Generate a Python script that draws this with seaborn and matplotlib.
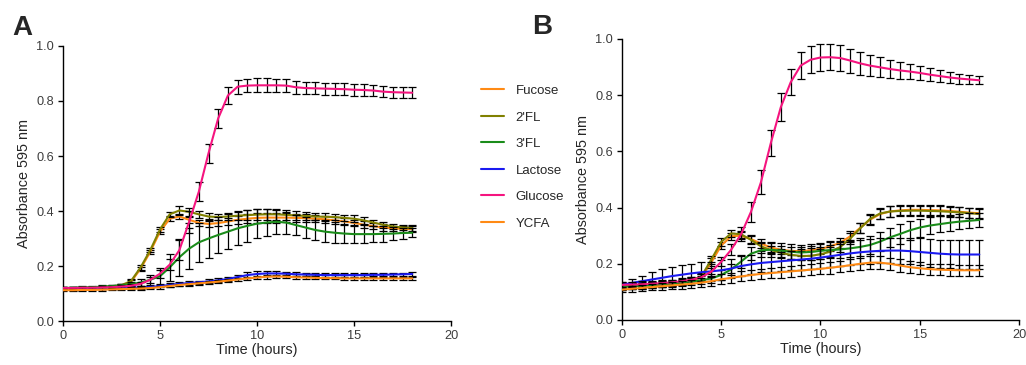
import numpy as np
import pandas as pd
import matplotlib
matplotlib.use("Agg")
import matplotlib.pyplot as plt
from matplotlib.lines import Line2D
import seaborn as sns

# Sampling times (hours), one reading every 30 min
hours = np.arange(0, 18.5, 0.5)

series_names = ["Fucose", "2'FL", "3'FL", "Lactose", "Glucose", "YCFA"]
colors = {"Fucose": "#FF8A14", "2'FL": "#808000", "3'FL": "#1A8C1A",
          "Lactose": "#1A1AF0", "Glucose": "#F5147F", "YCFA": "#FF8A14"}

# ---- Panel A: mean absorbance ----
fucose_A = [0.116, 0.117, 0.118, 0.119, 0.121, 0.124, 0.128, 0.142, 0.190, 0.252, 0.325, 0.372, 0.380, 0.368, 0.357, 0.353, 0.356, 0.362, 0.368, 0.372, 0.375, 0.376, 0.376, 0.376, 0.375, 0.374, 0.372, 0.370, 0.366, 0.362, 0.357, 0.350, 0.345, 0.340, 0.337, 0.335, 0.334]
fl2_A = [0.118, 0.119, 0.120, 0.121, 0.123, 0.126, 0.130, 0.145, 0.195, 0.258, 0.333, 0.388, 0.402, 0.397, 0.388, 0.380, 0.378, 0.380, 0.383, 0.385, 0.387, 0.388, 0.388, 0.386, 0.384, 0.382, 0.380, 0.379, 0.378, 0.375, 0.372, 0.366, 0.358, 0.350, 0.344, 0.340, 0.338]
fl3_A = [0.120, 0.121, 0.122, 0.123, 0.125, 0.127, 0.130, 0.134, 0.140, 0.150, 0.163, 0.195, 0.232, 0.263, 0.286, 0.300, 0.313, 0.325, 0.337, 0.346, 0.354, 0.358, 0.361, 0.358, 0.349, 0.340, 0.331, 0.325, 0.321, 0.318, 0.316, 0.316, 0.316, 0.317, 0.318, 0.320, 0.321]
lactose_A = [0.118, 0.118, 0.118, 0.119, 0.119, 0.120, 0.120, 0.121, 0.122, 0.124, 0.127, 0.131, 0.135, 0.138, 0.141, 0.144, 0.148, 0.153, 0.160, 0.167, 0.171, 0.173, 0.173, 0.172, 0.170, 0.169, 0.168, 0.167, 0.167, 0.167, 0.167, 0.167, 0.168, 0.168, 0.169, 0.170, 0.171]
glucose_A = [0.120, 0.120, 0.121, 0.121, 0.122, 0.123, 0.125, 0.128, 0.135, 0.150, 0.172, 0.205, 0.258, 0.360, 0.470, 0.610, 0.737, 0.820, 0.852, 0.856, 0.857, 0.857, 0.857, 0.856, 0.850, 0.847, 0.846, 0.845, 0.844, 0.843, 0.841, 0.840, 0.838, 0.834, 0.832, 0.831, 0.830]
ycfa_A = [0.112, 0.112, 0.113, 0.113, 0.114, 0.115, 0.116, 0.117, 0.118, 0.120, 0.123, 0.127, 0.131, 0.134, 0.137, 0.140, 0.143, 0.147, 0.151, 0.155, 0.158, 0.161, 0.162, 0.161, 0.159, 0.158, 0.157, 0.156, 0.156, 0.155, 0.155, 0.155, 0.155, 0.155, 0.155, 0.155, 0.155]

# ---- Panel A: SEM ----
fucose_A_err = [0.004, 0.004, 0.004, 0.004, 0.004, 0.005, 0.005, 0.006, 0.008, 0.008, 0.010, 0.010, 0.010, 0.010, 0.010, 0.012, 0.012, 0.014, 0.015, 0.016, 0.017, 0.018, 0.018, 0.017, 0.015, 0.014, 0.013, 0.012, 0.012, 0.012, 0.012, 0.012, 0.011, 0.011, 0.010, 0.010, 0.010]
fl2_A_err = [0.004, 0.004, 0.004, 0.004, 0.004, 0.005, 0.005, 0.006, 0.008, 0.008, 0.010, 0.010, 0.015, 0.015, 0.012, 0.012, 0.012, 0.014, 0.016, 0.018, 0.020, 0.021, 0.021, 0.019, 0.016, 0.014, 0.013, 0.012, 0.012, 0.012, 0.012, 0.012, 0.011, 0.011, 0.010, 0.010, 0.010]
fl3_A_err = [0.004, 0.004, 0.004, 0.004, 0.005, 0.005, 0.006, 0.008, 0.012, 0.018, 0.030, 0.050, 0.068, 0.075, 0.072, 0.070, 0.067, 0.064, 0.060, 0.057, 0.052, 0.048, 0.044, 0.040, 0.038, 0.038, 0.038, 0.038, 0.038, 0.036, 0.034, 0.032, 0.030, 0.028, 0.024, 0.020, 0.016]
lactose_A_err = [0.004, 0.004, 0.004, 0.004, 0.004, 0.004, 0.004, 0.005, 0.005, 0.005, 0.005, 0.006, 0.006, 0.006, 0.006, 0.007, 0.007, 0.008, 0.009, 0.010, 0.010, 0.010, 0.009, 0.008, 0.007, 0.006, 0.006, 0.006, 0.006, 0.006, 0.006, 0.006, 0.006, 0.006, 0.006, 0.006, 0.006]
glucose_A_err = [0.004, 0.004, 0.004, 0.004, 0.004, 0.004, 0.005, 0.006, 0.008, 0.010, 0.015, 0.020, 0.035, 0.040, 0.035, 0.035, 0.035, 0.030, 0.025, 0.025, 0.025, 0.025, 0.024, 0.024, 0.023, 0.023, 0.022, 0.022, 0.022, 0.022, 0.022, 0.022, 0.021, 0.021, 0.020, 0.020, 0.020]
ycfa_A_err = [0.004, 0.004, 0.004, 0.004, 0.004, 0.004, 0.004, 0.004, 0.004, 0.004, 0.005, 0.005, 0.005, 0.005, 0.005, 0.005, 0.005, 0.006, 0.006, 0.006, 0.007, 0.007, 0.007, 0.006, 0.006, 0.005, 0.005, 0.005, 0.005, 0.005, 0.005, 0.005, 0.005, 0.005, 0.005, 0.005, 0.005]

# ---- Panel B: mean absorbance ----
fucose_B = [0.118, 0.120, 0.122, 0.124, 0.126, 0.129, 0.133, 0.140, 0.152, 0.205, 0.265, 0.298, 0.300, 0.288, 0.272, 0.258, 0.250, 0.246, 0.245, 0.248, 0.253, 0.262, 0.275, 0.298, 0.328, 0.357, 0.377, 0.386, 0.390, 0.392, 0.392, 0.391, 0.390, 0.388, 0.385, 0.382, 0.380]
fl2_B = [0.120, 0.122, 0.124, 0.126, 0.128, 0.131, 0.135, 0.142, 0.155, 0.215, 0.278, 0.308, 0.305, 0.285, 0.262, 0.249, 0.239, 0.232, 0.228, 0.228, 0.234, 0.243, 0.260, 0.290, 0.326, 0.360, 0.379, 0.386, 0.388, 0.389, 0.389, 0.388, 0.387, 0.385, 0.383, 0.380, 0.377]
fl3_B = [0.118, 0.120, 0.122, 0.124, 0.127, 0.130, 0.133, 0.137, 0.141, 0.148, 0.160, 0.180, 0.208, 0.236, 0.248, 0.250, 0.247, 0.243, 0.240, 0.242, 0.246, 0.249, 0.251, 0.255, 0.260, 0.267, 0.279, 0.294, 0.306, 0.319, 0.329, 0.336, 0.341, 0.346, 0.350, 0.353, 0.356]
lactose_B = [0.125, 0.132, 0.138, 0.144, 0.150, 0.156, 0.161, 0.166, 0.170, 0.173, 0.177, 0.183, 0.192, 0.198, 0.203, 0.206, 0.209, 0.212, 0.215, 0.218, 0.222, 0.227, 0.232, 0.237, 0.241, 0.244, 0.246, 0.247, 0.247, 0.245, 0.242, 0.239, 0.236, 0.234, 0.233, 0.233, 0.233]
glucose_B = [0.125, 0.126, 0.127, 0.129, 0.131, 0.134, 0.138, 0.143, 0.152, 0.172, 0.207, 0.250, 0.305, 0.385, 0.490, 0.630, 0.757, 0.846, 0.905, 0.926, 0.934, 0.935, 0.932, 0.923, 0.913, 0.905, 0.899, 0.893, 0.888, 0.884, 0.879, 0.873, 0.868, 0.863, 0.859, 0.856, 0.853]
ycfa_B = [0.108, 0.111, 0.114, 0.117, 0.120, 0.123, 0.126, 0.129, 0.133, 0.138, 0.145, 0.150, 0.155, 0.160, 0.164, 0.167, 0.170, 0.173, 0.176, 0.179, 0.182, 0.186, 0.190, 0.195, 0.200, 0.204, 0.204, 0.200, 0.194, 0.188, 0.184, 0.181, 0.179, 0.178, 0.177, 0.177, 0.177]

# ---- Panel B: SEM ----
fucose_B_err = [0.010, 0.010, 0.010, 0.010, 0.010, 0.010, 0.010, 0.010, 0.012, 0.014, 0.014, 0.012, 0.012, 0.014, 0.015, 0.015, 0.015, 0.015, 0.016, 0.016, 0.017, 0.018, 0.018, 0.018, 0.018, 0.018, 0.018, 0.018, 0.018, 0.018, 0.018, 0.018, 0.018, 0.018, 0.018, 0.018, 0.018]
fl2_B_err = [0.010, 0.010, 0.010, 0.010, 0.010, 0.010, 0.010, 0.010, 0.012, 0.014, 0.014, 0.012, 0.012, 0.014, 0.015, 0.015, 0.015, 0.015, 0.016, 0.016, 0.017, 0.018, 0.018, 0.018, 0.018, 0.018, 0.018, 0.018, 0.018, 0.018, 0.018, 0.018, 0.018, 0.018, 0.018, 0.018, 0.018]
fl3_B_err = [0.010, 0.010, 0.010, 0.010, 0.010, 0.010, 0.011, 0.012, 0.014, 0.016, 0.018, 0.020, 0.022, 0.024, 0.025, 0.026, 0.026, 0.027, 0.028, 0.028, 0.029, 0.030, 0.030, 0.031, 0.032, 0.033, 0.034, 0.035, 0.035, 0.034, 0.032, 0.030, 0.029, 0.028, 0.027, 0.026, 0.025]
lactose_B_err = [0.010, 0.015, 0.020, 0.025, 0.030, 0.032, 0.034, 0.035, 0.035, 0.035, 0.035, 0.035, 0.034, 0.034, 0.034, 0.034, 0.034, 0.035, 0.036, 0.037, 0.038, 0.039, 0.040, 0.041, 0.042, 0.043, 0.044, 0.045, 0.046, 0.047, 0.048, 0.049, 0.050, 0.050, 0.050, 0.050, 0.050]
glucose_B_err = [0.010, 0.010, 0.010, 0.010, 0.010, 0.010, 0.010, 0.010, 0.012, 0.014, 0.016, 0.020, 0.025, 0.035, 0.042, 0.047, 0.050, 0.047, 0.048, 0.048, 0.048, 0.046, 0.045, 0.043, 0.040, 0.038, 0.035, 0.032, 0.030, 0.028, 0.026, 0.024, 0.022, 0.020, 0.018, 0.016, 0.015]
ycfa_B_err = [0.010, 0.010, 0.010, 0.011, 0.012, 0.013, 0.014, 0.015, 0.016, 0.016, 0.017, 0.017, 0.018, 0.018, 0.018, 0.019, 0.019, 0.019, 0.020, 0.020, 0.020, 0.021, 0.021, 0.022, 0.022, 0.023, 0.023, 0.022, 0.022, 0.021, 0.021, 0.020, 0.020, 0.020, 0.020, 0.020, 0.020]

panel_A = {"Fucose": (fucose_A, fucose_A_err), "2'FL": (fl2_A, fl2_A_err),
           "3'FL": (fl3_A, fl3_A_err), "Lactose": (lactose_A, lactose_A_err),
           "Glucose": (glucose_A, glucose_A_err), "YCFA": (ycfa_A, ycfa_A_err)}
panel_B = {"Fucose": (fucose_B, fucose_B_err), "2'FL": (fl2_B, fl2_B_err),
           "3'FL": (fl3_B, fl3_B_err), "Lactose": (lactose_B, lactose_B_err),
           "Glucose": (glucose_B, glucose_B_err), "YCFA": (ycfa_B, ycfa_B_err)}

sns.set_style("ticks")
plt.rcParams["font.family"] = ["Liberation Sans", "DejaVu Sans"]
plt.rcParams["axes.linewidth"] = 1.0
plt.rcParams["xtick.major.width"] = 1.0
plt.rcParams["ytick.major.width"] = 1.0
plt.rcParams["xtick.major.size"] = 3.5
plt.rcParams["ytick.major.size"] = 3.5

fig = plt.figure(figsize=(10.26, 3.65), dpi=100)
axA = fig.add_axes([0.0614, 0.1205, 0.3782, 0.7535])
axB = fig.add_axes([0.6062, 0.1233, 0.3870, 0.7700])


def draw_panel(ax, panel):
    for i, name in enumerate(series_names):
        mean, err = panel[name]
        df = pd.DataFrame({"Time (hours)": hours, "Absorbance 595 nm": mean})
        ax.errorbar(hours, mean, yerr=err, fmt="none", ecolor="black",
                    elinewidth=0.9, capsize=2.6, capthick=0.9, zorder=2 + i * 2)
        sns.lineplot(data=df, x="Time (hours)", y="Absorbance 595 nm", ax=ax,
                     color=colors[name], linewidth=1.5, zorder=3 + i * 2,
                     legend=False)
    ax.set_xlim(0, 20)
    ax.set_ylim(0, 1.0)
    ax.set_xticks([0, 5, 10, 15, 20])
    ax.set_yticks([0.0, 0.2, 0.4, 0.6, 0.8, 1.0])
    ax.set_yticklabels(["0.0", "0.2", "0.4", "0.6", "0.8", "1.0"])
    ax.tick_params(labelsize=9.2, labelcolor="#3c3c3c", color="black", pad=3)
    ax.set_xlabel("Time (hours)", fontsize=10.4, labelpad=1)
    ax.set_ylabel("Absorbance 595 nm", fontsize=10.4, labelpad=4)
    for s in ("top", "right"):
        ax.spines[s].set_visible(False)
    for s in ("left", "bottom"):
        ax.spines[s].set_color("black")


draw_panel(axA, panel_A)
draw_panel(axB, panel_B)

handles = [Line2D([0], [0], color=colors[n], lw=1.5) for n in series_names]
fig.legend(handles, series_names, loc="upper left",
           bbox_to_anchor=(0.4575, 0.80), frameon=False, fontsize=9.5,
           handlelength=1.75, handletextpad=0.85, labelspacing=1.08)

fig.text(0.0117, 1 - 35 / 365, "A", fontsize=20, fontweight="bold", va="baseline")
fig.text(0.5185, 1 - 34 / 365, "B", fontsize=20, fontweight="bold", va="baseline")

fig.savefig("out.png", dpi=100)
